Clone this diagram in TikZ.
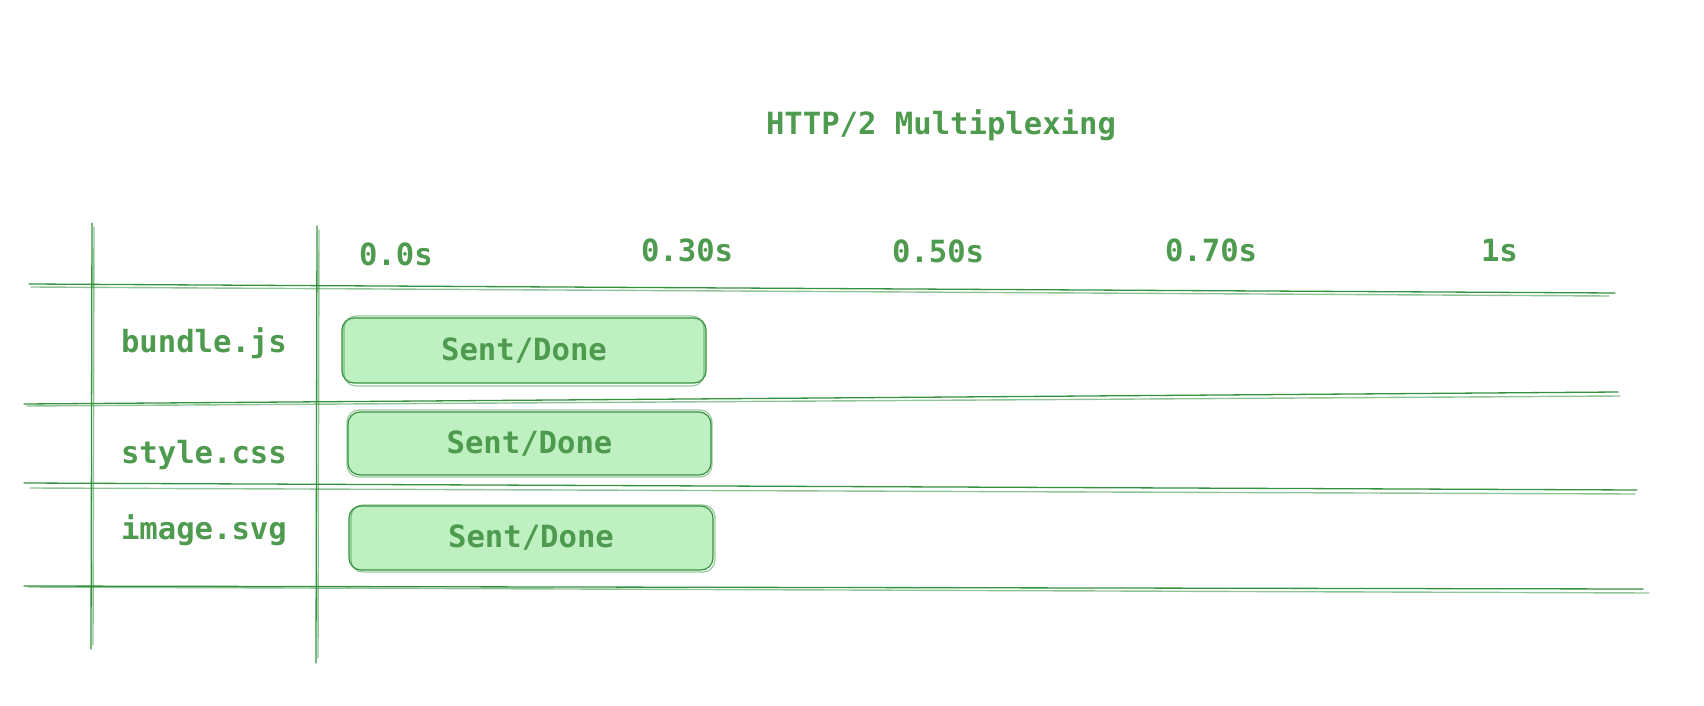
\documentclass[tikz,border=0pt]{standalone}
\usepackage{fontspec}
\setmonofont{DejaVu Sans Mono}
\definecolor{txtgreen}{RGB}{78,154,78}
\definecolor{linegreen}{RGB}{52,146,62}
\definecolor{fillgreen}{RGB}{191,240,193}
\tikzset{
  lbl/.style={text=txtgreen, font=\ttfamily\bfseries\fontsize{15.3}{18}\selectfont, inner sep=0pt, outer sep=0pt},
  rule/.style={draw=linegreen, line width=0.65pt, line cap=round},
  rule2/.style={draw=linegreen, draw opacity=0.55, line width=0.7pt, line cap=round},
  bar/.style={lbl, fill=fillgreen, draw=linegreen, line width=0.6pt, rounded corners=6pt, align=center},
  barline/.style={draw=linegreen, draw opacity=0.5, line width=0.6pt, rounded corners=6pt}
}
\begin{document}
\begin{tikzpicture}[x=0.5pt,y=-0.5pt]
\useasboundingbox (0,0) rectangle (1704,706);
% title
\node[lbl, anchor=base west] (title) at (766,135) {HTTP/2 Multiplexing};
% time ticks
\node[lbl, anchor=base west] (t0) at (359,265) {0.0s};
\node[lbl, anchor=base west] (t1) at (641,261) {0.30s};
\node[lbl, anchor=base west] (t2) at (892,263) {0.50s};
\node[lbl, anchor=base west] (t3) at (1165,261) {0.70s};
\node[lbl, anchor=base west] (t4) at (1481,262) {1s};
% row labels
\node[lbl, anchor=base west] (r1) at (121,352) {bundle.js};
\node[lbl, anchor=base west] (r2) at (121,463) {style.css};
\node[lbl, anchor=base west] (r3) at (121,539) {image.svg};
% vertical rules
\draw[rule] (92,223) -- (91,649);
\draw[rule2] (94,227) -- (93,645);
\draw[rule] (317,226) -- (316,663);
\draw[rule2] (319,230) -- (318,658);
% horizontal rules
\draw[rule] (29,284) -- (1615,293);
\draw[rule2] (31,287) -- (1609,296);
\draw[rule] (24,404) -- (1618,392);
\draw[rule2] (27,406) -- (1620,396);
\draw[rule] (24,483) -- (1637,490);
\draw[rule2] (30,488) -- (1635,494);
\draw[rule] (24,586) -- (1643,589);
\draw[rule2] (28,587) -- (1649,593);
% bars
\node[bar, minimum width=182pt, minimum height=32.5pt] (b1) at (524,350.5) {Sent/Done};
\node[bar, minimum width=181.5pt, minimum height=31.5pt] (b2) at (529.5,443.5) {Sent/Done};
\node[bar, minimum width=182pt, minimum height=32pt] (b3) at (531,538) {Sent/Done};
\draw[barline] ([shift={(1pt,-1.5pt)}]b1.south west) rectangle ([shift={(-1pt,1pt)}]b1.north east);
\draw[barline] ([shift={(-0.5pt,-1pt)}]b2.south west) rectangle ([shift={(0.5pt,1pt)}]b2.north east);
\draw[barline] ([shift={(1pt,-1pt)}]b3.south west) rectangle ([shift={(1pt,0.5pt)}]b3.north east);
\end{tikzpicture}
\end{document}
